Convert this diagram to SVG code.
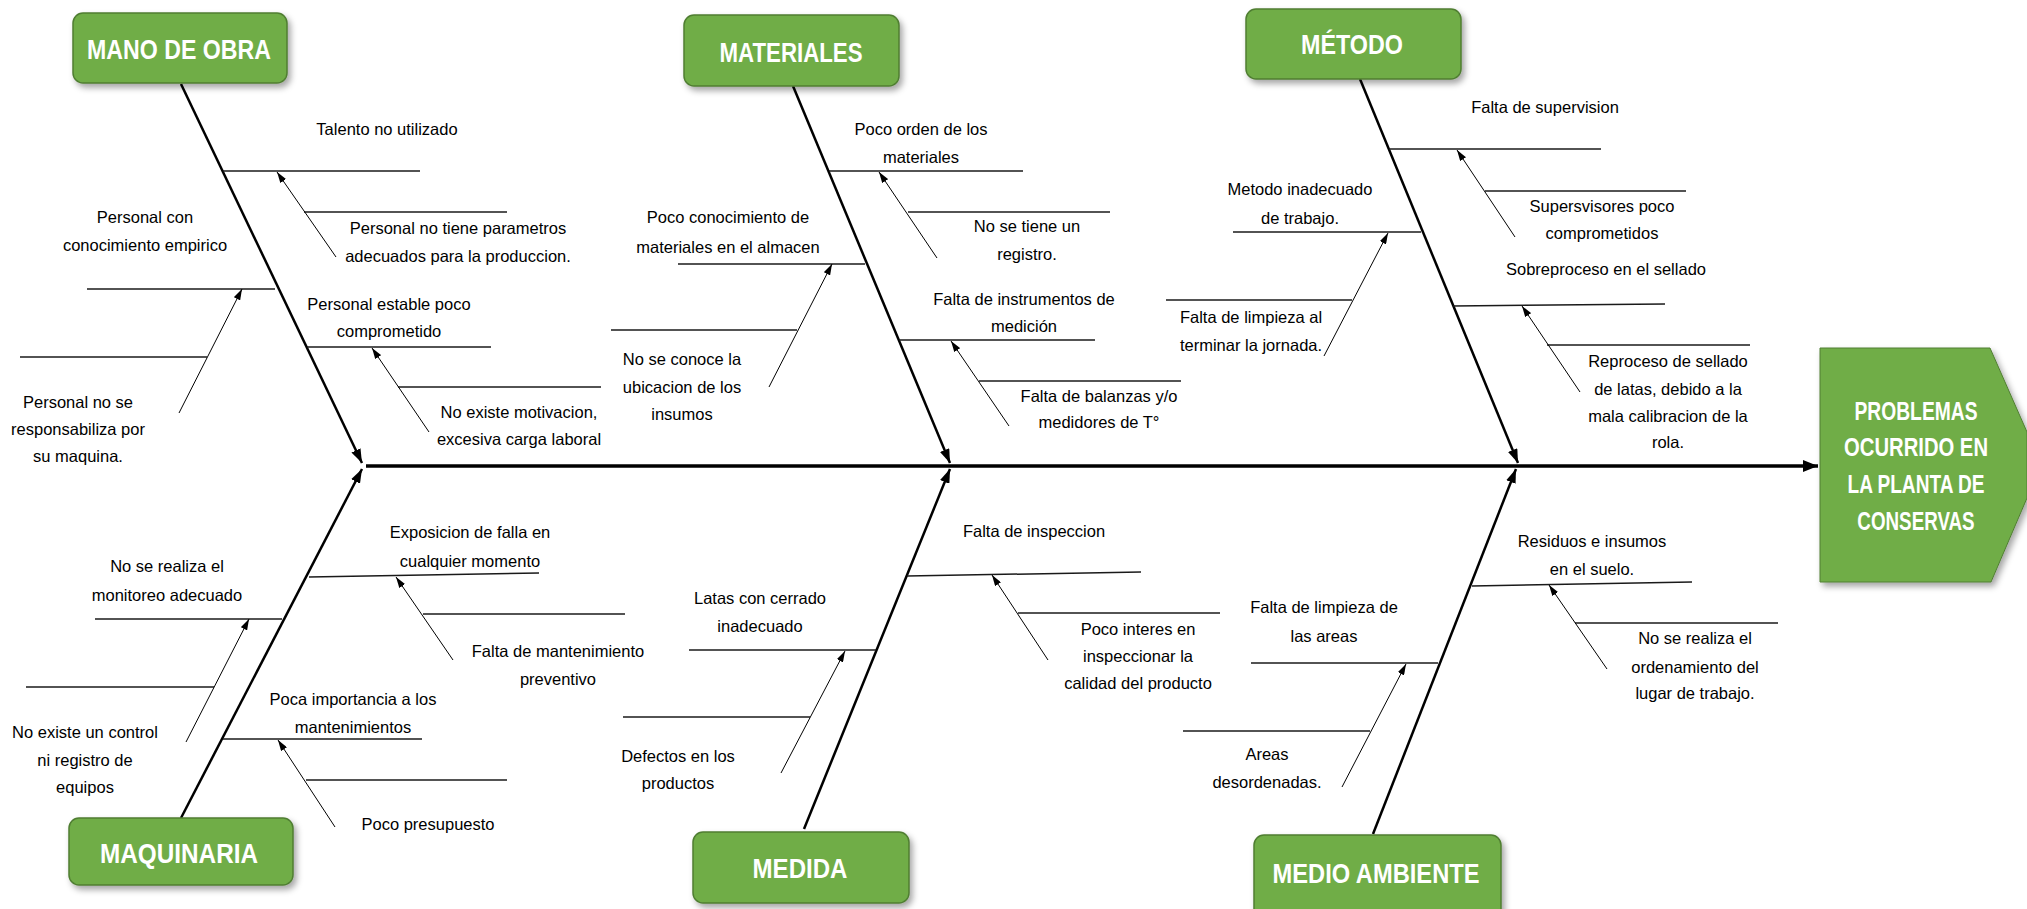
<svg xmlns="http://www.w3.org/2000/svg" width="2027" height="909" viewBox="0 0 2027 909">
<defs>
<style>
.t{font-family:"Liberation Sans",Arial,sans-serif;font-size:16.5px;fill:#000;text-anchor:middle}
.lb{font-family:"Liberation Sans",Arial,sans-serif;font-size:27px;font-weight:bold;fill:#fff;text-anchor:middle}
.hd{font-family:"Liberation Sans",Arial,sans-serif;font-size:26px;font-weight:bold;fill:#fff;text-anchor:middle}
.box{fill:#70AD47;stroke:#507E32;stroke-width:1.5}
.spine{stroke:#000;stroke-width:3.5;fill:none}
.bone{stroke:#000;stroke-width:2.5;fill:none}
.h{stroke:#1a1a1a;stroke-width:1.5;fill:none}
.sa{stroke:#000;stroke-width:1;fill:none}
</style>
<filter id="sh" x="-10%" y="-10%" width="130%" height="140%">
<feDropShadow dx="3" dy="4" stdDeviation="3" flood-color="#000" flood-opacity="0.35"/>
</filter>
<marker id="ab" viewBox="0 0 10 10" refX="10" refY="5" markerWidth="14" markerHeight="10" markerUnits="userSpaceOnUse" orient="auto" preserveAspectRatio="none"><path d="M0,0 L10,5 L0,10 z" fill="#000"/></marker>
<marker id="as" viewBox="0 0 10 10" refX="10" refY="5" markerWidth="11" markerHeight="7" markerUnits="userSpaceOnUse" orient="auto" preserveAspectRatio="none"><path d="M0,0 L10,5 L0,10 z" fill="#000"/></marker>
<marker id="am" viewBox="0 0 10 10" refX="10" refY="5" markerWidth="15" markerHeight="12" markerUnits="userSpaceOnUse" orient="auto" preserveAspectRatio="none"><path d="M0,0 L10,5 L0,10 z" fill="#000"/></marker>
</defs>
<rect width="2027" height="909" fill="#fff"/>

<g id="connectors">
<path class="spine" d="M366 466 L1818 466" marker-end="url(#am)"/>
<path class="bone" d="M181 84 L362 463" marker-end="url(#ab)"/>
<path class="bone" d="M793 86 L950 463" marker-end="url(#ab)"/>
<path class="bone" d="M1360 79 L1518 463" marker-end="url(#ab)"/>
<path class="bone" d="M181 818 L362 469" marker-end="url(#ab)"/>
<path class="bone" d="M804 829 L950 469" marker-end="url(#ab)"/>
<path class="bone" d="M1373 834 L1516 469" marker-end="url(#ab)"/>

<path class="h" d="M223 171 L420 171"/>
<path class="h" d="M304 212 L507 212"/>
<path class="h" d="M87 289 L275 289"/>
<path class="h" d="M20 357 L207 357"/>
<path class="h" d="M307 347 L491 347"/>
<path class="h" d="M398 387 L601 387"/>

<path class="h" d="M829 171 L1023 171"/>
<path class="h" d="M908 212 L1110 212"/>
<path class="h" d="M678 264 L865 264"/>
<path class="h" d="M611 330 L797 330"/>
<path class="h" d="M899 340 L1095 340"/>
<path class="h" d="M979 381 L1181 381"/>

<path class="h" d="M1389 149 L1601 149"/>
<path class="h" d="M1485 191 L1686 191"/>
<path class="h" d="M1233 232 L1421 232"/>
<path class="h" d="M1166 300 L1352 300"/>
<path class="h" d="M1453 306 L1665 304"/>
<path class="h" d="M1547 345 L1750 345"/>

<path class="h" d="M309 577 L539 573"/>
<path class="h" d="M423 614 L625 614"/>
<path class="h" d="M95 619 L282 619"/>
<path class="h" d="M26 687 L214 687"/>
<path class="h" d="M223 739 L422 739"/>
<path class="h" d="M306 780 L507 780"/>

<path class="h" d="M907 576 L1141 572"/>
<path class="h" d="M1018 613 L1220 613"/>
<path class="h" d="M689 650 L876 650"/>
<path class="h" d="M623 717 L810 717"/>

<path class="h" d="M1472 586 L1692 582"/>
<path class="h" d="M1575 623 L1778 623"/>
<path class="h" d="M1251 663 L1438 663"/>
<path class="h" d="M1183 731 L1370 731"/>

<path class="sa" d="M336 257 L277 172" marker-end="url(#as)"/>
<path class="sa" d="M179 413 L242 289" marker-end="url(#as)"/>
<path class="sa" d="M429 432 L372 348" marker-end="url(#as)"/>
<path class="sa" d="M937 258 L879 172" marker-end="url(#as)"/>
<path class="sa" d="M769 387 L832 264" marker-end="url(#as)"/>
<path class="sa" d="M1009 426 L951 341" marker-end="url(#as)"/>
<path class="sa" d="M1515 237 L1457 150" marker-end="url(#as)"/>
<path class="sa" d="M1324 356 L1388 233" marker-end="url(#as)"/>
<path class="sa" d="M1580 392 L1522 306" marker-end="url(#as)"/>
<path class="sa" d="M453 660 L396 577" marker-end="url(#as)"/>
<path class="sa" d="M186 742 L249 619" marker-end="url(#as)"/>
<path class="sa" d="M335 827 L278 740" marker-end="url(#as)"/>
<path class="sa" d="M1048 660 L992 575" marker-end="url(#as)"/>
<path class="sa" d="M781 773 L845 651" marker-end="url(#as)"/>
<path class="sa" d="M1607 669 L1549 585" marker-end="url(#as)"/>
<path class="sa" d="M1342 787 L1406 664" marker-end="url(#as)"/>
</g>

<g id="node-problema">
<polygon points="1820,348 1990,348 2027,432 2027,498 1991,582 1820,582" fill="#70AD47" stroke="#507E32" stroke-width="1" filter="url(#sh)"/>
<text class="hd" transform="translate(1916 420) scale(0.741 1)">PROBLEMAS</text>
<text class="hd" transform="translate(1916 456) scale(0.779 1)">OCURRIDO EN</text>
<text class="hd" transform="translate(1916 493) scale(0.734 1)">LA PLANTA DE</text>
<text class="hd" transform="translate(1916 530) scale(0.723 1)">CONSERVAS</text>
</g>

<g id="node-mano-de-obra">
<rect class="box" x="73" y="13" width="214" height="70" rx="10" filter="url(#sh)"/>
<text class="lb" x="179" y="59" textLength="184" lengthAdjust="spacingAndGlyphs">MANO DE OBRA</text>
</g>
<g id="node-materiales">
<rect class="box" x="684" y="15" width="215" height="71" rx="10" filter="url(#sh)"/>
<text class="lb" x="791" y="62" textLength="143" lengthAdjust="spacingAndGlyphs">MATERIALES</text>
</g>
<g id="node-metodo">
<rect class="box" x="1246" y="9" width="215" height="70" rx="10" filter="url(#sh)"/>
<text class="lb" x="1352" y="54" textLength="102" lengthAdjust="spacingAndGlyphs">MÉTODO</text>
</g>
<g id="node-maquinaria">
<rect class="box" x="69" y="818" width="224" height="67" rx="10" filter="url(#sh)"/>
<text class="lb" x="179" y="863" textLength="158" lengthAdjust="spacingAndGlyphs">MAQUINARIA</text>
</g>
<g id="node-medida">
<rect class="box" x="693" y="832" width="216" height="71" rx="10" filter="url(#sh)"/>
<text class="lb" x="800" y="878" textLength="95" lengthAdjust="spacingAndGlyphs">MEDIDA</text>
</g>
<g id="node-medio-ambiente">
<rect class="box" x="1254" y="835" width="247" height="84" rx="10" filter="url(#sh)"/>
<text class="lb" x="1376" y="883" textLength="207" lengthAdjust="spacingAndGlyphs">MEDIO AMBIENTE</text>
</g>

<g id="causes-mano-de-obra">
<text class="t" x="387" y="135">Talento no utilizado</text>
<text class="t" x="458" y="234">Personal no tiene parametros<tspan x="458" y="262">adecuados para la produccion.</tspan></text>
<text class="t" x="145" y="223">Personal con<tspan x="145" y="251">conocimiento empirico</tspan></text>
<text class="t" x="78" y="408">Personal no se<tspan x="78" y="435">responsabiliza por</tspan><tspan x="78" y="462">su maquina.</tspan></text>
<text class="t" x="389" y="310">Personal estable poco<tspan x="389" y="337">comprometido</tspan></text>
<text class="t" x="519" y="418">No existe motivacion,<tspan x="519" y="445">excesiva carga laboral</tspan></text>
</g>

<g id="causes-materiales">
<text class="t" x="921" y="135">Poco orden de los<tspan x="921" y="163">materiales</tspan></text>
<text class="t" x="1027" y="232">No se tiene un<tspan x="1027" y="260">registro.</tspan></text>
<text class="t" x="728" y="223">Poco conocimiento de<tspan x="728" y="253">materiales en el almacen</tspan></text>
<text class="t" x="682" y="365">No se conoce la<tspan x="682" y="393">ubicacion de los</tspan><tspan x="682" y="420">insumos</tspan></text>
<text class="t" x="1024" y="305">Falta de instrumentos de<tspan x="1024" y="332">medición</tspan></text>
<text class="t" x="1099" y="402">Falta de balanzas y/o<tspan x="1099" y="428">medidores de T°</tspan></text>
</g>

<g id="causes-metodo">
<text class="t" x="1545" y="113">Falta de supervision</text>
<text class="t" x="1602" y="212">Supersvisores poco<tspan x="1602" y="239">comprometidos</tspan></text>
<text class="t" x="1300" y="195">Metodo inadecuado<tspan x="1300" y="224">de trabajo.</tspan></text>
<text class="t" x="1251" y="323">Falta de limpieza al<tspan x="1251" y="351">terminar la jornada.</tspan></text>
<text class="t" x="1606" y="275">Sobreproceso en el sellado</text>
<text class="t" x="1668" y="367">Reproceso de sellado<tspan x="1668" y="395">de latas, debido a la</tspan><tspan x="1668" y="422">mala calibracion de la</tspan><tspan x="1668" y="448">rola.</tspan></text>
</g>

<g id="causes-maquinaria">
<text class="t" x="470" y="538">Exposicion de falla en<tspan x="470" y="567">cualquier momento</tspan></text>
<text class="t" x="558" y="657">Falta de mantenimiento<tspan x="558" y="685">preventivo</tspan></text>
<text class="t" x="167" y="572">No se realiza el<tspan x="167" y="601">monitoreo adecuado</tspan></text>
<text class="t" x="85" y="738">No existe un control<tspan x="85" y="766">ni registro de</tspan><tspan x="85" y="793">equipos</tspan></text>
<text class="t" x="353" y="705">Poca importancia a los<tspan x="353" y="733">mantenimientos</tspan></text>
<text class="t" x="428" y="830">Poco presupuesto</text>
</g>

<g id="causes-medida">
<text class="t" x="1034" y="537">Falta de inspeccion</text>
<text class="t" x="1138" y="635">Poco interes en<tspan x="1138" y="662">inspeccionar la</tspan><tspan x="1138" y="689">calidad del producto</tspan></text>
<text class="t" x="760" y="604">Latas con cerrado<tspan x="760" y="632">inadecuado</tspan></text>
<text class="t" x="678" y="762">Defectos en los<tspan x="678" y="789">productos</tspan></text>
</g>

<g id="causes-medio-ambiente">
<text class="t" x="1592" y="547">Residuos e insumos<tspan x="1592" y="575">en el suelo.</tspan></text>
<text class="t" x="1695" y="644">No se realiza el<tspan x="1695" y="673">ordenamiento del</tspan><tspan x="1695" y="699">lugar de trabajo.</tspan></text>
<text class="t" x="1324" y="613">Falta de limpieza de<tspan x="1324" y="642">las areas</tspan></text>
<text class="t" x="1267" y="760">Areas<tspan x="1267" y="788">desordenadas.</tspan></text>
</g>
</svg>
